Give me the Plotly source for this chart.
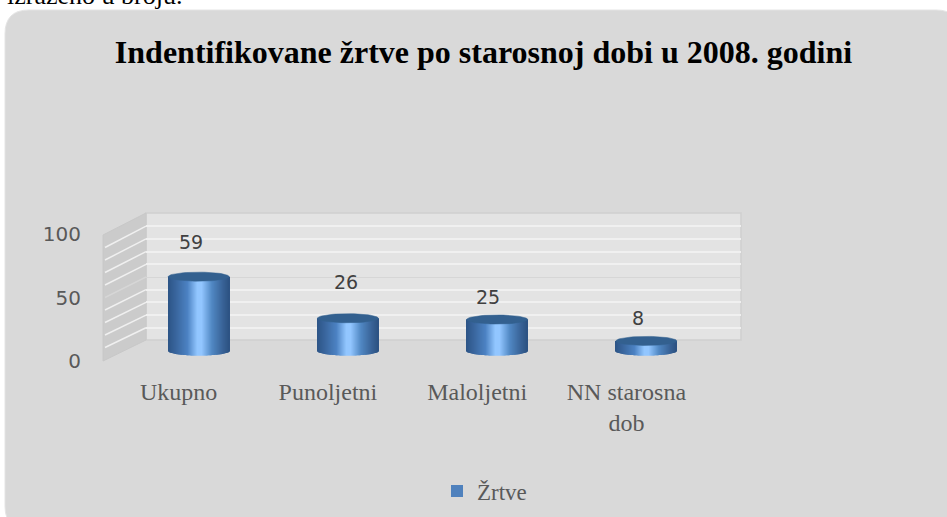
import math
import plotly.graph_objects as go

categories = ["Ukupno", "Punoljetni", "Maloljetni", "NN starosna<br>dob"]
series_name = "Žrtve"
values = [59, 26, 25, 8]
y_ticks = [0, 50, 100]
minor_levels = [10, 20, 30, 40, 60, 70, 80, 90]
title_text = "Indentifikovane žrtve po starosnoj dobi u 2008. godini"
top_text = "izraženo u broju."

W, H = 947, 517
def px(x): return x / W
def py(y): return 1 - y / H

SERIF = "Liberation Serif"
SANS = "DejaVu Sans"

# cylinder geometry (axis units)
half_w = 0.204
cap_b = 3.6
N = 61
def shade(t):
    stops = [(0, (44, 84, 134)), (0.12, (56, 100, 155)), (0.32, (76, 130, 195)),
             (0.48, (146, 198, 255)), (0.55, (146, 198, 255)), (0.72, (80, 135, 195)),
             (0.9, (56, 98, 150)), (1, (44, 82, 130))]
    for (a, ca), (b, cb) in zip(stops, stops[1:]):
        if a <= t <= b:
            f = (t - a) / (b - a)
            return "rgb(%d,%d,%d)" % tuple(round(p + (q - p) * f) for p, q in zip(ca, cb))
    return "rgb(44,82,130)"

xs = list(range(len(categories)))
fig = go.Figure()

# front plane: carries the tick labels
fig.add_trace(go.Scatter(x=xs, y=[None] * 4, xaxis="x", yaxis="y", showlegend=False, hoverinfo="skip"))
# back plane: carries the gridlines
fig.add_trace(go.Scatter(x=xs, y=[None] * 4, xaxis="x2", yaxis="y2", showlegend=False, hoverinfo="skip"))

# base bar + legend entry
fig.add_trace(go.Bar(x=xs, y=values, width=2 * half_w, marker=dict(color="#4f81bd", line_width=0),
                     name=series_name, xaxis="x3", yaxis="y3", hoverinfo="skip"))
# shaded strips, each with an elliptical foot
for i in range(N):
    t = (i + 0.5) / N
    u = 2 * t - 1
    foot = -cap_b * math.sqrt(max(0, 1 - u * u))
    fig.add_trace(go.Bar(x=xs, y=[v - foot for v in values], base=foot,
                         width=2 * half_w / N * 1.15,
                         offset=-half_w + 2 * half_w * i / N,
                         marker=dict(color=shade(t), line_width=0),
                         showlegend=False, xaxis="x3", yaxis="y3", hoverinfo="skip"))
# elliptical tops
for x, v in zip(xs, values):
    th = [2 * math.pi * k / 60 for k in range(61)]
    fig.add_trace(go.Scatter(x=[x + half_w * math.cos(a) for a in th],
                             y=[v + cap_b * math.sin(a) for a in th],
                             mode="lines", fill="toself", fillcolor="#33608f",
                             line=dict(color="#33608f", width=0.5),
                             showlegend=False, xaxis="x3", yaxis="y3", hoverinfo="skip"))

# panel and walls
R = 24
L, T, RT, B = 5, 10, 960, 530
panel = (f"M{px(L+R)},{py(T)} L{px(RT-R)},{py(T)} Q{px(RT)},{py(T)} {px(RT)},{py(T+R)} "
         f"L{px(RT)},{py(B-R)} Q{px(RT)},{py(B)} {px(RT-R)},{py(B)} "
         f"L{px(L+R)},{py(B)} Q{px(L)},{py(B)} {px(L)},{py(B-R)} "
         f"L{px(L)},{py(T+R)} Q{px(L)},{py(T)} {px(L+R)},{py(T)} Z")
def poly(pts):
    return "M" + " L".join(f"{px(a)},{py(b)}" for a, b in pts) + " Z"

shapes = [
    dict(type="path", path=panel, xref="paper", yref="paper", fillcolor="#d9d9d9",
         line=dict(color="#e4e4e4", width=1), layer="below"),
    dict(type="path", path=poly([(146, 213), (741, 213), (741, 340), (146, 340)]), xref="paper", yref="paper",
         fillcolor="#e3e3e3", line=dict(color="#cfcfcf", width=1.5), layer="below"),
    dict(type="path", path=poly([(103, 235), (146, 213), (146, 340), (103, 361)]), xref="paper", yref="paper",
         fillcolor="#cbcbcb", line=dict(color="#c8c8c8", width=1), layer="below"),
]
for lv in minor_levels + [50]:
    shapes.append(dict(type="line", xref="paper", yref="paper", layer="below",
                       x0=px(105), x1=px(146),
                       y0=py(360 - 1.25 * lv), y1=py(340.5 - 1.27 * lv),
                       line=dict(color="#d6d6d6" if lv == 50 else "#f0f0f0", width=1.5)))

# data labels, nudged as in the picture
label_shift = [(-8, -35), (-2, -36), (-9, -23), (-8, -23)]
annotations = [dict(x=x, y=v, xref="x3", yref="y3", text=str(v), showarrow=False,
                    xshift=dx, yshift=-dy, font=dict(family=SANS, size=19, color="#404040"))
               for x, v, (dx, dy) in zip(xs, values, label_shift)]
annotations.append(dict(x=px(5), y=py(12), xref="paper", yref="paper", xanchor="left", yanchor="bottom",
                        text=top_text, showarrow=False,
                        font=dict(family=SERIF, size=26, color="#000000")))

R0 = [-0.5, 3.5]
fig.update_layout(
    width=W, height=H, margin=dict(l=0, r=0, t=0, b=0, autoexpand=False),
    paper_bgcolor="#ffffff", plot_bgcolor="rgba(0,0,0,0)", barmode="overlay",
    title=dict(text=title_text, x=483.5 / W, xref="paper", xanchor="center",
               y=py(52), yref="paper", yanchor="middle", automargin=False,
               font=dict(family=SERIF, size=32, color="#000000", weight="bold")),
    xaxis=dict(domain=[px(104), px(701)], range=R0, tickvals=xs, ticktext=categories,
               showgrid=False, zeroline=False, showline=False, ticks="", ticklabelstandoff=14,
               tickfont=dict(family=SERIF, size=24, color="#595959"), anchor="y"),
    yaxis=dict(domain=[py(361), py(234)], range=[0, 100], tickvals=y_ticks,
               showgrid=False, zeroline=False, showline=False, ticks="", ticklabelstandoff=22,
               tickfont=dict(family=SANS, size=20, color="#595959"), anchor="x"),
    xaxis3=dict(domain=[px(124), px(721)], range=R0, visible=False, anchor="y3"),
    yaxis3=dict(domain=[py(363.6), py(225)], range=[-10, 100], visible=False, anchor="x3"),
    xaxis2=dict(domain=[px(146), px(741)], range=R0, visible=False, anchor="y2"),
    yaxis2=dict(domain=[py(340.5), py(213.5)], range=[0, 100], tickvals=[50],
                showticklabels=False, ticks="", showgrid=True, gridcolor="#d6d6d6", gridwidth=1,
                zeroline=False, showline=False, anchor="x2",
                minor=dict(tickvals=minor_levels, showgrid=True, gridcolor="#f0f0f0", gridwidth=2, ticks="")),
    legend=dict(x=px(437), y=py(491), xref="paper", yref="paper", xanchor="left", yanchor="middle",
                orientation="h", bgcolor="rgba(0,0,0,0)",
                font=dict(family=SERIF, size=23, color="#595959")),
    shapes=shapes, annotations=annotations,
)
fig.write_html("out.html", config={"displayModeBar": False}, post_script=(
    "document.body.style.margin='0';document.documentElement.style.overflow='hidden';"
    "var g=document.getElementById('{plot_id}');g.style.position='fixed';g.style.left='0';g.style.top='0';"))
